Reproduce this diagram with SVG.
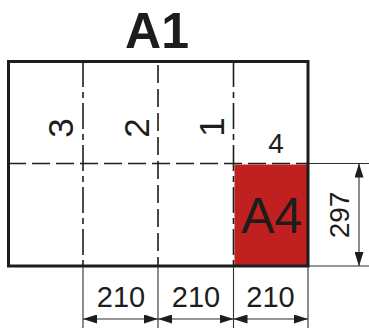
<svg xmlns="http://www.w3.org/2000/svg" width="369" height="331" viewBox="0 0 369 331">
<defs>
<style>
.fold{fill:none;stroke:#1d1d1b;stroke-width:1.6}
.dashdot{stroke-dasharray:26 5 6 5}
.dash{stroke-dasharray:18 6}
.dim{fill:none;stroke:#2e2e2c;stroke-width:1.1}
.arr{marker-start:url(#ah);marker-end:url(#ah)}
.t{font-family:"Liberation Sans",Arial,sans-serif;fill:#1d1d1b;text-anchor:middle}
</style>
<marker id="ah" viewBox="0 0 14 9" refX="14" refY="4.5" markerWidth="14" markerHeight="9" markerUnits="userSpaceOnUse" orient="auto-start-reverse">
<path d="M0,0 L14,4.5 L0,9 z" fill="#1d1d1b"/>
</marker>
</defs>
<rect width="369" height="331" fill="#ffffff"/>
<g id="title"><text class="t" x="157" y="48" font-size="50" font-weight="bold">A1</text></g>
<g id="a4-sheet">
<rect x="234.5" y="164.5" width="73.5" height="101.5" fill="#c02120"/>
<text class="t" x="272" y="233" font-size="50">A4</text>
</g>
<g id="folds">
<line class="fold dash" x1="8" y1="163.5" x2="308" y2="163.5"/>
<line class="fold dashdot" x1="83" y1="61" x2="83" y2="266"/>
<line class="fold dash" x1="158" y1="65" x2="158" y2="266"/>
<line class="fold dashdot" x1="233.5" y1="61" x2="233.5" y2="266"/>
</g>
<g id="sheet">
<rect x="8.5" y="61.5" width="299.5" height="204.5" fill="none" stroke="#1d1d1b" stroke-width="3"/>
</g>
<g id="labels">
<text class="t" font-size="35" transform="translate(72.5,128) rotate(-90)">3</text>
<text class="t" font-size="35" transform="translate(148.5,128) rotate(-90)">2</text>
<text class="t" font-size="35" transform="translate(223.5,127) rotate(-90)">1</text>
<text class="t" x="276" y="153" font-size="28">4</text>
</g>
<g id="connectors">
<line class="dim" x1="309" y1="163.5" x2="369" y2="163.5"/>
<line class="dim" x1="309" y1="266" x2="369" y2="266"/>
<line class="dim arr" x1="359" y1="163.5" x2="359" y2="266"/>
<line class="dim" x1="83" y1="267" x2="83" y2="328"/>
<line class="dim" x1="158" y1="267" x2="158" y2="328"/>
<line class="dim" x1="233.5" y1="267" x2="233.5" y2="328"/>
<line class="dim" x1="308" y1="267" x2="308" y2="328"/>
<line class="dim arr" x1="83" y1="319" x2="158" y2="319"/>
<line class="dim arr" x1="158" y1="319" x2="233.5" y2="319"/>
<line class="dim arr" x1="233.5" y1="319" x2="308" y2="319"/>
</g>
<g id="dim-labels">
<text class="t" font-size="28" transform="translate(349,215) rotate(-90)">297</text>
<text class="t" x="121" y="307" font-size="29">210</text>
<text class="t" x="196" y="307" font-size="29">210</text>
<text class="t" x="270.5" y="307" font-size="29">210</text>
</g>
</svg>
